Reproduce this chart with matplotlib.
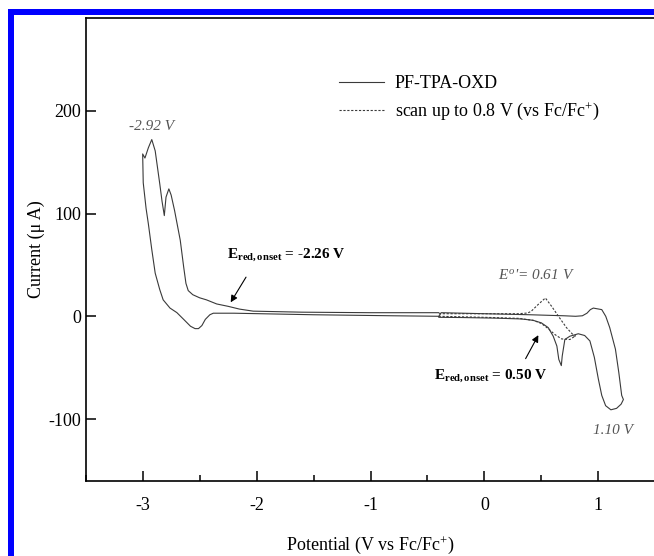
import matplotlib
matplotlib.use("Agg")
import matplotlib.pyplot as plt
from matplotlib.lines import Line2D
from matplotlib.patches import Rectangle
from matplotlib.ticker import MultipleLocator

plt.rcParams["font.family"] = ["Liberation Serif", "DejaVu Serif"]
plt.rcParams["mathtext.fontset"] = "custom"
plt.rcParams["mathtext.rm"] = "Liberation Serif"
plt.rcParams["mathtext.it"] = "Liberation Serif:italic"
plt.rcParams["mathtext.bf"] = "Liberation Serif:bold"
plt.rcParams["axes.unicode_minus"] = False

# PF-TPA-OXD full scan, traced as one continuous polyline
# upper branch, -0.4 V down to -3.0 V
pf_x1 = [-0.40, -1.0, -1.6, -2.03, -2.15, -2.25, -2.35, -2.44, -2.50, -2.56, -2.60, -2.62,
         -2.64, -2.67, -2.72, -2.75, -2.77, -2.795, -2.81, -2.83, -2.85, -2.89, -2.92,
         -2.95, -2.98, -3.00]
pf_y1 = [3.5, 3.5, 4, 5, 7, 9.7, 12, 16, 18, 21, 25, 32,
         48, 74, 103, 118, 124, 116, 98, 112, 129, 161, 172,
         164, 154, 158]
# return branch, -3.0 V back to -0.4 V
pf_x2 = [-2.995, -2.97, -2.95, -2.92, -2.89, -2.85, -2.82, -2.76, -2.70, -2.64, -2.58,
         -2.54, -2.51, -2.48, -2.45, -2.41, -2.38, -2.2, -1.5, -0.8, -0.4]
pf_y2 = [130, 105, 90, 65, 42, 26, 16, 8, 3.6, -3, -9.7,
         -12, -12, -9, -3, 1.5, 3, 3, 1.5, 0.5, 0]
# anodic side, -0.4 V up to 1.22 V
pf_x3 = [-0.38, 0.0, 0.4, 0.7, 0.8, 0.86, 0.9, 0.93, 0.956, 0.98, 1.03, 1.065,
         1.10, 1.15, 1.18, 1.205, 1.22]
pf_y3 = [3.5, 2.5, 1.5, 0.5, 0, 0.5, 3, 6.5, 8, 7.5, 6.5, 0,
         -11, -32, -55, -77, -81]
# back from 1.22 V to -0.4 V
pf_x4 = [1.20, 1.16, 1.11, 1.064, 1.03, 1.0, 0.965, 0.926, 0.88, 0.824, 0.75, 0.706,
         0.683, 0.675, 0.653, 0.636, 0.604, 0.56, 0.50, 0.427, 0.324, 0.1, -0.2, -0.4]
pf_y4 = [-85.5, -89.6, -91, -87, -77, -61, -40, -24, -18.7, -17, -19.4, -22.6,
         -38.7, -48, -42, -29, -19.4, -11, -6.4, -3.9, -2.6, -1.8, -1.2, -1]

pf_x = pf_x1 + pf_x2 + pf_x3 + pf_x4
pf_y = pf_y1 + pf_y2 + pf_y3 + pf_y4

# scan up to 0.8 V
sc_x = [-0.40, 0.0, 0.3, 0.38, 0.41, 0.47, 0.535, 0.59, 0.65, 0.72, 0.79, 0.80,
        0.75, 0.677, 0.618, 0.56, 0.50, 0.43, 0.3, 0.0, -0.40]
sc_y = [2.5, 2.5, 2.5, 3.2, 4.8, 11.3, 17.8, 9.7, 0, -11, -19.4, -19,
        -22.6, -22, -17.7, -12, -7, -4, -2, -1, 0]

fig = plt.figure(figsize=(6.54, 5.56), dpi=100)
ax = fig.add_axes([85.7 / 654, 75.3 / 556, 569.6 / 654, 462.4 / 556])

line_col = "#3a3a3a"
ax.plot(pf_x, pf_y, color=line_col, lw=0.8)
ax.plot(sc_x, sc_y, color=line_col, lw=0.8, linestyle=(0, (2.0, 1.5)))

ax.set_xlim(-3.5, 1.5)
ax.set_ylim(-160, 290)
ax.xaxis.set_major_locator(MultipleLocator(1))
ax.xaxis.set_minor_locator(MultipleLocator(0.5))
ax.set_yticks([-100, 0, 100, 200])
ax.tick_params(which="both", direction="in", labelsize=13, width=1.1)
ax.tick_params(which="major", length=7)
ax.tick_params(which="minor", length=4)
ax.tick_params(axis="x", pad=12)
for s in ax.spines.values():
    s.set_linewidth(1.2)

ax.set_xlabel("Potential (V vs Fc/Fc$^{+}$)", fontsize=13, labelpad=14)
ax.set_ylabel("Current (\u03bc A)", fontsize=13, labelpad=2)

handles = [Line2D([], [], color=line_col, lw=0.8),
           Line2D([], [], color=line_col, lw=0.8, linestyle=(0, (2.0, 1.5)))]
ax.legend(handles, ["PF-TPA-OXD", "scan up to 0.8 V (vs Fc/Fc$^{+}$)"],
          frameon=False, fontsize=13, loc="upper left",
          bbox_to_anchor=(330 / 654, 1 - 66 / 556), bbox_transform=fig.transFigure,
          handlelength=2.5, handletextpad=0.6, labelspacing=0.45, borderpad=0)

gray = "#555555"
ax.text(-2.92, 178, "-2.92 V", style="italic", fontsize=11, color=gray, ha="center", va="bottom")
ax.text(-2.26, 60, "$\\mathbf{E_{red,onset}}$ = -2.26 V", fontsize=11, fontweight="bold",
        ha="left", va="center")
ax.annotate("", xy=(-2.24, 11.3), xytext=(-2.08, 40.4),
            arrowprops=dict(arrowstyle="-|>", color="black", lw=0.8, mutation_scale=10))
ax.text(0.46, 40, "$E^{o}$'= 0.61 V", style="italic", fontsize=11, color=gray,
        ha="center", va="center")
ax.text(-0.44, -58, "$\\mathbf{E_{red,onset}}$ = 0.50 V", fontsize=11, fontweight="bold",
        ha="left", va="center")
ax.annotate("", xy=(0.485, -16), xytext=(0.35, -43.6),
            arrowprops=dict(arrowstyle="-|>", color="black", lw=0.8, mutation_scale=10))
ax.text(1.125, -111, "1.10 V", style="italic", fontsize=11, color=gray, ha="center", va="center")

# blue frame around the figure (cropped)
fig.add_artist(Rectangle((8 / 654, 0), 6 / 654, 1 - 9 / 556, transform=fig.transFigure,
                         color="#0000ff", lw=0))
fig.add_artist(Rectangle((8 / 654, 1 - 14.5 / 556), 1, 5.5 / 556, transform=fig.transFigure,
                         color="#0000ff", lw=0))

fig.savefig("out.png", dpi=100)
